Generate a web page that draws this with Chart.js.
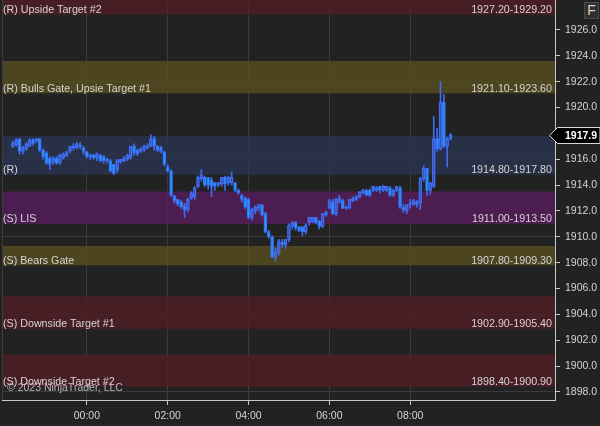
<!DOCTYPE html>
<html><head><meta charset="utf-8">
<script src="https://cdn.jsdelivr.net/npm/chart.js@4.4.0/dist/chart.umd.min.js"></script>
<style>html,body{margin:0;padding:0;background:#222222;}#wrap{width:600px;height:426px;}</style>
</head><body><div id="wrap"><canvas id="c" width="600" height="426"></canvas></div>
<script>
// ---- data (5-minute bars) ----
const opens=[1917.0,1917.1,1917.6,1916.6,1916.8,1917.0,1917.5,1917.4,1917.6,1916.7,
1916.5,1916.1,1915.8,1916.1,1915.7,1916.1,1916.3,1916.6,1916.9,1916.9,
1917.1,1916.9,1916.6,1916.3,1916.3,1916.1,1916.3,1916.2,1916.0,1915.9,
1915.6,1915.2,1915.8,1915.9,1916.0,1916.1,1917.0,1916.7,1916.6,1916.7,
1916.9,1917.0,1917.6,1917.0,1916.9,1916.6,1915.4,1915.1,1913.2,1912.9,
1912.7,1912.4,1912.1,1913.0,1913.1,1913.9,1914.5,1914.6,1914.6,1914.4,
1914.2,1914.0,1914.1,1914.6,1914.2,1914.2,1914.2,1913.6,1913.2,1913.0,
1912.9,1911.5,1912.0,1912.2,1912.5,1911.8,1910.4,1910.0,1908.4,1908.8,
1909.6,1909.4,1909.8,1910.8,1911.1,1910.8,1910.8,1910.4,1911.1,1911.2,
1911.5,1911.2,1910.8,1911.7,1912.2,1912.7,1911.8,1912.7,1912.8,1912.3,
1912.2,1912.8,1912.9,1913.1,1913.4,1913.6,1913.6,1913.6,1913.6,1913.9,
1913.6,1913.6,1913.8,1913.2,1913.6,1913.8,1912.3,1912.0,1912.5,1912.5,
1912.7,1912.6,1914.5,1915.3,1913.6,1913.9,1917.6,1916.8,1920.4,1917.0,
1917.6];
const highs=[1917.4,1917.6,1917.6,1917.0,1917.3,1917.6,1917.6,1917.6,1917.6,1916.8,
1916.6,1916.2,1916.2,1916.2,1916.4,1916.5,1916.6,1917.0,1917.2,1917.3,
1917.3,1917.0,1916.6,1916.4,1916.4,1916.5,1916.4,1916.3,1916.1,1916.0,
1915.6,1916.0,1916.0,1916.2,1916.4,1917.0,1917.2,1916.8,1916.9,1917.1,
1917.2,1917.9,1917.8,1917.1,1917.0,1916.6,1915.6,1915.2,1913.2,1912.9,
1912.8,1912.6,1913.0,1913.5,1913.9,1914.7,1915.2,1914.7,1914.6,1914.6,
1914.2,1914.2,1914.6,1914.7,1914.7,1915.0,1914.2,1913.7,1913.3,1913.1,
1913.0,1912.2,1912.4,1912.5,1912.5,1911.9,1910.5,1910.1,1909.1,1909.8,
1909.8,1909.8,1911.0,1911.2,1911.2,1910.8,1910.8,1911.0,1911.5,1911.5,
1911.5,1911.3,1911.8,1912.0,1912.9,1912.9,1913.0,1913.2,1912.9,1912.4,
1912.9,1913.1,1913.2,1913.5,1913.7,1913.7,1913.7,1913.9,1913.9,1913.9,
1914.0,1913.9,1913.9,1913.7,1913.9,1913.9,1912.5,1912.5,1912.9,1912.9,
1912.8,1914.6,1915.5,1915.3,1914.2,1919.3,1918.4,1922.0,1921.0,1917.7,
1918.0];
const lows=[1916.9,1917.0,1916.4,1916.4,1916.7,1917.0,1917.1,1917.3,1916.6,1916.0,
1915.6,1915.2,1915.6,1915.6,1915.6,1916.0,1916.2,1916.5,1916.7,1916.8,
1916.8,1916.4,1916.1,1916.0,1916.0,1915.9,1915.8,1915.7,1915.7,1915.0,
1914.8,1915.0,1915.7,1915.8,1915.9,1916.0,1916.3,1916.3,1916.5,1916.6,
1916.8,1917.0,1916.7,1916.6,1916.5,1915.5,1915.0,1913.1,1912.6,1912.4,
1912.2,1911.5,1911.9,1912.9,1912.9,1913.8,1914.3,1913.9,1913.7,1913.1,
1913.6,1913.9,1913.9,1913.6,1914.0,1914.0,1913.5,1913.3,1912.7,1912.2,
1911.4,1911.3,1911.8,1912.0,1911.6,1910.3,1909.9,1908.4,1908.1,1908.6,
1909.2,1909.1,1909.6,1910.6,1910.5,1910.4,1910.1,1910.2,1910.9,1911.1,
1911.0,1910.6,1910.7,1911.6,1912.2,1911.7,1911.6,1912.6,1912.2,1912.1,
1912.2,1912.7,1912.8,1913.0,1913.3,1913.2,1913.1,1913.5,1913.5,1913.4,
1913.5,1913.5,1913.1,1913.1,1913.5,1912.2,1911.9,1911.8,1912.2,1912.4,
1912.3,1912.1,1914.3,1913.2,1913.3,1913.8,1916.6,1916.7,1916.9,1915.4,
1917.5];
const closes=[1917.3,1917.5,1916.6,1916.9,1917.2,1917.5,1917.2,1917.6,1916.7,1916.2,
1915.7,1915.6,1916.1,1915.7,1916.3,1916.4,1916.6,1917.0,1917.0,1917.2,
1917.0,1916.6,1916.2,1916.2,1916.1,1916.4,1915.9,1915.9,1915.9,1915.1,
1914.9,1915.9,1916.0,1916.1,1916.3,1917.0,1916.5,1916.4,1916.8,1917.0,
1917.0,1917.6,1917.0,1916.7,1916.6,1915.6,1915.1,1913.2,1912.8,1912.5,
1912.3,1912.1,1912.9,1913.4,1913.8,1914.6,1914.8,1914.0,1914.0,1913.9,
1913.9,1914.2,1914.6,1914.1,1914.6,1914.6,1913.6,1913.4,1912.9,1912.3,
1911.5,1912.1,1912.3,1912.5,1911.7,1910.4,1910.0,1908.4,1908.8,1909.7,
1909.4,1909.8,1910.9,1911.1,1910.7,1910.5,1910.4,1910.9,1911.5,1911.5,
1911.1,1910.8,1911.8,1911.9,1912.8,1911.8,1912.9,1913.0,1912.2,1912.2,
1912.9,1913.0,1913.1,1913.5,1913.6,1913.2,1913.2,1913.9,1913.8,1913.6,
1913.9,1913.9,1913.2,1913.6,1913.9,1912.3,1912.1,1912.5,1912.6,1912.8,
1912.5,1914.5,1915.3,1913.6,1914.2,1917.6,1916.8,1920.4,1917.0,1917.6,
1917.9];
const firstBarMinute = -110;   // 22:10 (minutes from midnight)
const barMinutes = 5;
const barTimes = opens.map((_, i) => firstBarMinute + i * barMinutes);

const bandNames = ['(R) Upside Target #2','(R) Bulls Gate, Upsie Target #1','(R)','(S) LIS','(S) Bears Gate','(S) Downside Target #1','(S) Downside Target #2'];
const bandLow  = [1927.20, 1921.10, 1914.80, 1911.00, 1907.80, 1902.90, 1898.40];
const bandHigh = [1929.20, 1923.60, 1917.80, 1913.50, 1909.30, 1905.40, 1900.90];
const timeTickValues = [0, 120, 240, 360, 480];
const priceTickStep = 2;
const lastPrice = 1917.9;

// ---- styles ----
const bandColors = ['rgba(82,30,39,0.8)','rgba(89,79,33,0.8)','rgba(42,53,82,0.8)','rgba(87,29,92,0.8)','rgba(89,79,33,0.8)','rgba(82,30,39,0.8)','rgba(82,30,39,0.8)'];
const X_MIN = -126, X_MAX = 695, Y_MIN = 1897.38, Y_MAX = 1928.32;
const outline = '#3f6cf0', downFill = '#1e96ff';
const txt = '#d4d4d4', gridCol = '#3a3a3a', axisCol = '#c8c8c8';
const FONT = '"Liberation Sans", Arial, sans-serif';

const datasets = [];
bandLow.forEach((lo, i) => {
  datasets.push({type:'line', data:[{x:X_MIN,y:bandHigh[i]},{x:X_MAX,y:bandHigh[i]}], borderColor:'transparent', borderWidth:0, pointRadius:0, fill:false, order:10});
  datasets.push({type:'line', data:[{x:X_MIN,y:lo},{x:X_MAX,y:lo}], borderColor:'transparent', borderWidth:0, pointRadius:0, fill:'-1', backgroundColor:bandColors[i], order:10});
});
datasets.push({type:'bar', data: barTimes.map((t,i)=>({x:t, y:[Math.max(opens[i],closes[i]), highs[i]]})), barThickness:1, backgroundColor:outline, borderWidth:0, grouped:false, order:3});
datasets.push({type:'bar', data: barTimes.map((t,i)=>({x:t, y:[lows[i], Math.min(opens[i],closes[i])]})), barThickness:1, backgroundColor:outline, borderWidth:0, grouped:false, order:3});
datasets.push({type:'bar', data: barTimes.map((t,i)=>({x:t, y:[opens[i], closes[i]]})), barThickness:3, minBarLength:1,
  backgroundColor: ctx => (closes[ctx.dataIndex] >= opens[ctx.dataIndex]) ? 'rgba(0,0,0,0)' : downFill,
  borderColor: outline, borderWidth:1, borderSkipped:false, grouped:false, order:1});

const fmtTime = v => { const m = ((v % 1440) + 1440) % 1440; const h = Math.floor(m/60), mm = m%60; return String(h).padStart(2,'0')+':'+String(mm).padStart(2,'0'); };

const bgPlugin = { id:'bg', beforeDraw(c){ const g=c.ctx; g.save(); g.fillStyle='#222222'; g.fillRect(0,0,c.width,c.height); g.restore(); } };
const overlay = { id:'overlay', afterDraw(c){
  const g=c.ctx, ys=c.scales.y, a=c.chartArea;
  g.save();
  g.strokeStyle='#3c3c3c'; g.lineWidth=1; g.beginPath(); g.moveTo(a.left+0.5,a.top); g.lineTo(a.left+0.5,a.bottom); g.stroke();
  g.font='10.7px '+FONT; g.fillStyle=txt; g.textBaseline='alphabetic';
  bandLow.forEach((lo,i)=>{
    const yb = ys.getPixelForValue(lo) - 1.5;
    g.textAlign='left'; g.fillText(bandNames[i], a.left+1, yb);
    g.textAlign='right'; g.fillText(lo.toFixed(2)+'-'+bandHigh[i].toFixed(2), a.right-3, yb);
  });
  g.textAlign='left'; g.fillStyle='rgba(205,205,205,0.85)'; g.font='10.5px '+FONT;
  g.fillText('\u00A9 2023 NinjaTrader, LLC', 7, 390.5);
  const py = Math.round(ys.getPixelForValue(lastPrice)) + 0.5;
  g.beginPath(); g.moveTo(549.5,py); g.lineTo(557.5,py-8); g.lineTo(600,py-8); g.lineTo(600,py+8); g.lineTo(557.5,py+8); g.closePath();
  g.fillStyle='#000'; g.fill(); g.strokeStyle='#d8d8d8'; g.lineWidth=1; g.stroke();
  g.fillStyle='#ffffff'; g.font='bold 10.5px '+FONT; g.textAlign='left'; g.textBaseline='middle';
  g.fillText(lastPrice.toFixed(1), 565, py+0.5);
  g.fillStyle='#303030'; g.fillRect(584.5,2.5,14,16); g.strokeStyle='#4a4a4a'; g.strokeRect(584.5,2.5,14,16);
  g.fillStyle='#e6d2b8'; g.font='14px '+FONT; g.textAlign='center'; g.textBaseline='middle'; g.fillText('F', 591.5, 11);
  g.restore();
}};

new Chart(document.getElementById('c'), {
  type:'bar',
  data:{ datasets },
  options:{
    responsive:false, animation:false, devicePixelRatio:1,
    layout:{ padding:{ left:2, right:0, top:0, bottom:0 } },
    plugins:{ legend:{display:false}, tooltip:{enabled:false} },
    scales:{
      x:{ type:'linear', min:X_MIN, max:X_MAX, offset:false,
        afterBuildTicks: s => { s.ticks = timeTickValues.map(v => ({value:v})); },
        ticks:{ color:txt, font:{family:FONT, size:10.5}, padding:5, maxRotation:0, autoSkip:false, callback: v => fmtTime(v) },
        grid:{ offset:false, color:gridCol, tickColor:axisCol, tickLength:5, drawTicks:true },
        border:{ color:axisCol, width:1 },
        afterFit: s => { s.height = 26; s.paddingLeft = 0; s.paddingRight = 0; } },
      y:{ type:'linear', position:'right', min:Y_MIN, max:Y_MAX,
        afterBuildTicks: s => { s.ticks = s.ticks.filter(t => t.value <= 1926.01); },
        ticks:{ stepSize:priceTickStep, includeBounds:false, color:txt, font:{family:FONT, size:10.5}, padding:5, callback: v => Number(v).toFixed(1) },
        grid:{ color: ctx => (ctx.tick && Math.round(ctx.tick.value - 1898) % 6 === 0) ? gridCol : 'rgba(0,0,0,0)', tickColor:axisCol, tickLength:5 },
        border:{ color:axisCol, width:1 },
        afterFit: s => { s.width = 45; s.paddingTop = 0; s.paddingBottom = 0; } }
    }
  },
  plugins:[bgPlugin, overlay]
});
</script></body></html>
